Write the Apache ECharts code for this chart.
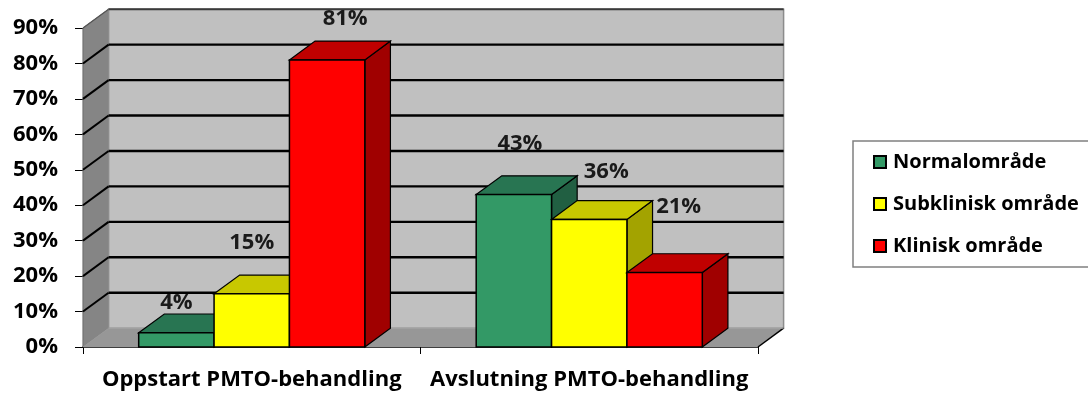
<!DOCTYPE html>
<html>
<head>
<meta charset="utf-8">
<script src="https://cdn.jsdelivr.net/npm/echarts@6/dist/echarts.min.js"></script>
<style>
  html, body { margin: 0; padding: 0; background: #fff; }
  #chart { width: 1088px; height: 394px; }
</style>
</head>
<body>
<div id="chart"></div>
<script>
// Values
const categories = ['Oppstart PMTO-behandling', 'Avslutning PMTO-behandling'];
const seriesNames = ['Normalområde', 'Subklinisk område', 'Klinisk område'];
const normalomrade = [4, 43];
const subkliniskOmrade = [15, 36];
const kliniskOmrade = [81, 21];
const yTicks = [0, 10, 20, 30, 40, 50, 60, 70, 80, 90];

// Styling
const FONT = '"Open Sans", "Liberation Sans", sans-serif';
const DEPTH = [25.6, -18.8];          // oblique depth of the box (px)
const GROUP_FRACTION = 0.67;          // share of a category band covered by its bars
const faces = [
  { front: '#339966', top: '#287552', side: '#215f42' },
  { front: '#ffff00', top: '#c8c800', side: '#a3a300' },
  { front: '#ff0000', top: '#c00000', side: '#a00000' }
];
// label nudge from the centre of each bar's front top edge
const labelNudge = [
  [[0, -30], [6, -51]],
  [[0, -51], [17, -48]],
  [[18, -41], [14, -66]]
];

const seriesValues = [normalomrade, subkliniskOmrade, kliniskOmrade];
const yMax = yTicks[yTicks.length - 1];
const [DX, DY] = DEPTH;

function poly(points, fill, stroke, lw) {
  return { type: 'polygon', shape: { points }, style: { fill, stroke, lineWidth: lw } };
}

// Box walls, floor and gridlines
function renderWalls(params, api) {
  const [x0, y0] = api.coord([0, 0]);
  const band = api.size([1, 0])[0];
  const x1 = x0 - band / 2 + band * categories.length;
  const xl = x0 - band / 2;
  const yTop = api.coord([0, yMax])[1];
  const children = [];
  // side wall
  children.push(poly([[xl, yTop], [xl + DX, yTop + DY], [xl + DX, y0 + DY], [xl, y0]], '#858585', '#6f6f6f', 1));
  // floor
  children.push(poly([[xl, y0], [xl + DX, y0 + DY], [x1 + DX, y0 + DY], [x1, y0]], '#979797', null, 0));
  // back wall
  children.push({ type: 'rect', shape: { x: xl + DX, y: yTop + DY, width: x1 - xl, height: y0 - yTop },
    style: { fill: '#c0c0c0', stroke: '#8c8c8c', lineWidth: 1.5 } });
  // floor edges
  children.push({ type: 'line', shape: { x1: x1, y1: y0, x2: x1 + DX, y2: y0 + DY }, style: { stroke: '#000', lineWidth: 1.5 } });
  children.push({ type: 'line', shape: { x1: xl, y1: y0, x2: xl + DX, y2: y0 + DY }, style: { stroke: '#9a9a9a', lineWidth: 1 } });
  children.push({ type: 'line', shape: { x1: xl + DX, y1: y0 + DY, x2: x1 + DX, y2: y0 + DY }, style: { stroke: '#aaaaaa', lineWidth: 1 } });
  // gridlines
  yTicks.forEach(function (v) {
    if (v === 0) return;
    const y = api.coord([0, v])[1];
    const top = v === yMax;
    children.push({ type: 'line', shape: { x1: xl + DX, y1: y + DY, x2: x1 + DX, y2: y + DY },
      style: { stroke: top ? '#3a3a3a' : '#000', lineWidth: top ? 2 : 2.4 } });
    children.push({ type: 'line', shape: { x1: xl, y1: y, x2: xl + DX, y2: y + DY },
      style: { stroke: top ? '#555' : '#000', lineWidth: top ? 1.2 : 2 } });
  });
  return { type: 'group', children };
}

// One 3D bar: side, top, front, then its value label
function makeBarRenderer(si) {
  return function (params, api) {
    const c = api.value(0);
    const v = api.value(1);
    const [cx, yv] = api.coord([c, v]);
    const y0 = api.coord([c, 0])[1];
    const band = api.size([1, 0])[0];
    const w = band * GROUP_FRACTION / seriesNames.length;
    const left = cx - band * GROUP_FRACTION / 2 + si * w;
    const right = left + w;
    const f = faces[si];
    const nudge = labelNudge[si][c];
    return {
      type: 'group',
      children: [
        poly([[right, yv], [right + DX, yv + DY], [right + DX, y0 + DY], [right, y0]], f.side, '#000', 1.2),
        poly([[left, yv], [left + DX, yv + DY], [right + DX, yv + DY], [right, yv]], f.top, '#000', 1.2),
        { type: 'rect', shape: { x: left, y: yv, width: w, height: y0 - yv },
          style: { fill: f.front, stroke: '#000', lineWidth: 1.5 } },
        { type: 'text', z2: 50,
          style: { x: (left + right) / 2 + nudge[0], y: yv + nudge[1], text: v + '%',
            fill: '#1a1a1a', font: 'bold 22px ' + FONT, align: 'center', verticalAlign: 'middle' } }
      ]
    };
  };
}

const chart = echarts.init(document.getElementById('chart'), null, { renderer: 'canvas' });

const series = [{
  type: 'custom',
  name: '__box',
  z: 1,
  clip: false,
  silent: true,
  renderItem: renderWalls,
  data: [[0, 0]]
}];
seriesNames.forEach(function (name, si) {
  series.push({
    type: 'custom',
    name: name,
    z: 2,
    clip: false,
    itemStyle: { color: faces[si].front },
    renderItem: makeBarRenderer(si),
    encode: { x: 0, y: 1 },
    data: seriesValues[si].map(function (v, i) { return [i, v]; })
  });
});

chart.setOption({
  animation: false,
  backgroundColor: '#ffffff',
  grid: { left: 83, right: 330, top: 28, bottom: 47, containLabel: false },
  xAxis: {
    type: 'category',
    data: categories,
    boundaryGap: true,
    axisLine: { show: true, lineStyle: { color: '#000', width: 1.5 } },
    axisTick: { show: true, length: 7, lineStyle: { color: '#000', width: 1 } },
    axisLabel: { color: '#000', fontFamily: FONT, fontWeight: 'bold', fontSize: 22, margin: 22,
      interval: 0, hideOverlap: false },
    splitLine: { show: false }
  },
  yAxis: {
    type: 'value',
    min: 0,
    max: yMax,
    interval: 10,
    axisLine: { show: true, lineStyle: { color: '#000', width: 1.2 } },
    axisTick: { show: true, length: 8, lineStyle: { color: '#000', width: 1 } },
    axisLabel: { color: '#000', fontFamily: FONT, fontWeight: 'bold', fontSize: 22, margin: 25,
      formatter: '{value}%' },
    splitLine: { show: false }
  },
  legend: {
    data: seriesNames,
    orient: 'vertical',
    left: 853,
    top: 141,
    padding: [11, 60, 11, 20],
    itemGap: 22,
    itemWidth: 12,
    itemHeight: 12,
    icon: 'rect',
    itemStyle: { borderColor: '#000', borderWidth: 2 },
    borderColor: '#808080',
    borderWidth: 1.5,
    backgroundColor: '#ffffff',
    textStyle: { color: '#000', fontFamily: FONT, fontWeight: 'bold', fontSize: 20, lineHeight: 20, padding: [0, 0, 0, 2] }
  },
  series: series
});
</script>
</body>
</html>
